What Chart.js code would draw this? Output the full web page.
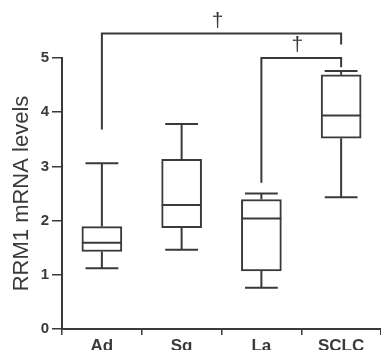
<!DOCTYPE html>
<html>
<head>
<meta charset="utf-8">
<script src="https://cdn.jsdelivr.net/npm/chart.js@4/dist/chart.umd.min.js"></script>
<style>
  html, body { margin: 0; padding: 0; background: #fff; }
  #wrap { width: 381px; height: 350px; }
</style>
</head>
<body>
<div id="wrap"><canvas id="c" width="381" height="350"></canvas></div>
<script>
// ---- data ----
const categories   = ['Ad', 'Sg', 'La', 'SCLC'];
const whiskerLow   = [1.12, 1.46, 0.76, 2.43];
const q1           = [1.43, 1.87, 1.07, 3.52];
const median       = [1.59, 2.29, 2.04, 3.94];
const q3           = [1.89, 3.13, 2.39, 4.69];
const whiskerHigh  = [3.06, 3.78, 2.50, 4.76];
const yTicks       = [0, 1, 2, 3, 4, 5];
const yTitle       = 'RRM1 mRNA levels';
// significance brackets: from category, to category, bar level, left leg end, right leg end, mark
const bracketFrom  = [0, 2];
const bracketTo    = [3, 3];
const bracketLevel = [5.45, 5.0];
const bracketLeftEnd  = [3.68, 2.70];
const bracketRightEnd = [5.25, 4.83];
const bracketMark  = ['\u2020', '\u2020'];

const INK = '#3a3a3a';

const boxPlugin = {
  id: 'boxExtras',
  afterDatasetsDraw(chart) {
    const ctx = chart.ctx;
    const xs = chart.scales.x, ys = chart.scales.y;
    const meta = chart.getDatasetMeta(0);
    ctx.save();
    ctx.strokeStyle = INK;
    ctx.lineWidth = 2;
    ctx.lineCap = 'butt';
    categories.forEach((c, i) => {
      const bar = meta.data[i];
      const cx = xs.getPixelForValue(i);
      const half = bar.width / 2;
      const capHalf = half * 0.82;
      const yMed = ys.getPixelForValue(median[i]);
      const yQ1 = ys.getPixelForValue(q1[i]);
      const yQ3 = ys.getPixelForValue(q3[i]);
      const yLo = ys.getPixelForValue(whiskerLow[i]);
      const yHi = ys.getPixelForValue(whiskerHigh[i]);
      ctx.beginPath();
      ctx.moveTo(cx - half, yMed); ctx.lineTo(cx + half, yMed);
      ctx.moveTo(cx, yQ3); ctx.lineTo(cx, yHi);
      ctx.moveTo(cx, yQ1); ctx.lineTo(cx, yLo);
      ctx.moveTo(cx - capHalf, yHi); ctx.lineTo(cx + capHalf, yHi);
      ctx.moveTo(cx - capHalf, yLo); ctx.lineTo(cx + capHalf, yLo);
      ctx.stroke();
    });
    ctx.fillStyle = INK;
    ctx.font = '21px "Liberation Sans", Arial, sans-serif';
    ctx.textAlign = 'center';
    ctx.textBaseline = 'alphabetic';
    bracketFrom.forEach((f, k) => {
      const xl = xs.getPixelForValue(f);
      const xr = xs.getPixelForValue(bracketTo[k]);
      const yb = ys.getPixelForValue(bracketLevel[k]);
      ctx.beginPath();
      ctx.moveTo(xl, ys.getPixelForValue(bracketLeftEnd[k]));
      ctx.lineTo(xl, yb);
      ctx.lineTo(xr, yb);
      ctx.lineTo(xr, ys.getPixelForValue(bracketRightEnd[k]));
      ctx.stroke();
      ctx.fillText(bracketMark[k], (xl + xr) / 2 - 4, yb - 7);
    });
    ctx.restore();
  }
};

new Chart(document.getElementById('c'), {
  type: 'bar',
  data: {
    labels: categories,
    datasets: [{
      data: categories.map((c, i) => [q1[i], q3[i]]),
      backgroundColor: '#ffffff',
      borderColor: INK,
      borderWidth: 2,
      borderSkipped: false,
      barThickness: 40
    }]
  },
  options: {
    responsive: false,
    animation: false,
    devicePixelRatio: 1,
    layout: { padding: { top: 58, right: 0, bottom: 0, left: 0 } },
    plugins: { legend: { display: false }, tooltip: { enabled: false } },
    scales: {
      x: {
        offset: true,
        grid: { display: true, offset: true, drawOnChartArea: false, drawTicks: true, tickLength: 6, color: INK, lineWidth: 1.5 },
        border: { display: true, color: INK, width: 2 },
        ticks: { color: INK, padding: 1, font: { family: '"Liberation Sans", Arial, sans-serif', size: 17, weight: 'bold' }, maxRotation: 0 },
        afterFit(s) { s.height = 21; }
      },
      y: {
        min: 0, max: 5,
        afterBuildTicks(s) { s.ticks = yTicks.map(v => ({ value: v })); },
        grid: { display: true, drawOnChartArea: false, drawTicks: true, tickLength: 10, color: INK, lineWidth: 1.5 },
        border: { display: true, color: INK, width: 2 },
        ticks: { color: INK, padding: 3, font: { family: '"Liberation Sans", Arial, sans-serif', size: 15, weight: 'bold' } },
        title: { display: true, text: yTitle, color: INK, padding: { top: 9, bottom: 0 }, font: { family: '"Liberation Sans", Arial, sans-serif', size: 22, weight: 'normal' } },
        afterFit(s) { s.width = 62; }
      }
    }
  },
  plugins: [boxPlugin]
});
</script>
</body>
</html>
